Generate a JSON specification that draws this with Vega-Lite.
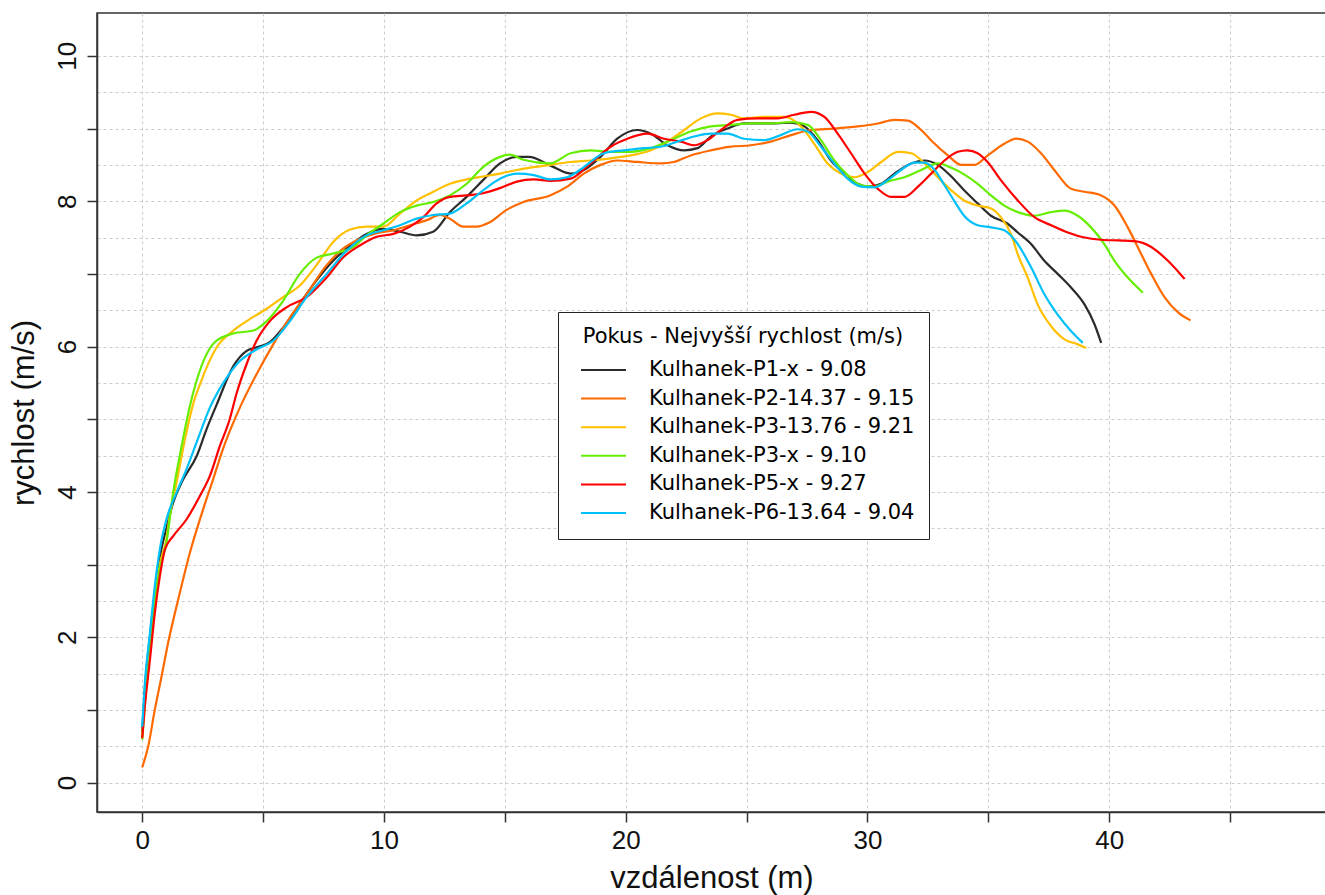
{
"$schema": "https://vega.github.io/schema/vega-lite/v6.json",
"width": 1229, "height": 799,
"autosize": {"type": "none"},
"padding": {"left": 97, "top": 13, "right": 0, "bottom": 83},
"background": "white",
"config": {"view": {"stroke": "#333333", "strokeWidth": 1.5}, "font": "Liberation Sans"},
"data": {"values": [
{"p":"Kulhanek-P1-x - 9.08","x":0,"y":0.7},{"p":"Kulhanek-P1-x - 9.08","x":0.11,"y":1.3},{"p":"Kulhanek-P1-x - 9.08","x":0.32,"y":2.0},{"p":"Kulhanek-P1-x - 9.08","x":0.52,"y":2.6},{"p":"Kulhanek-P1-x - 9.08","x":0.73,"y":3.1},{"p":"Kulhanek-P1-x - 9.08","x":1.0,"y":3.5},{"p":"Kulhanek-P1-x - 9.08","x":1.28,"y":3.85},{"p":"Kulhanek-P1-x - 9.08","x":1.69,"y":4.17},{"p":"Kulhanek-P1-x - 9.08","x":2.25,"y":4.49},{"p":"Kulhanek-P1-x - 9.08","x":2.66,"y":4.86},{"p":"Kulhanek-P1-x - 9.08","x":3.08,"y":5.2},{"p":"Kulhanek-P1-x - 9.08","x":3.77,"y":5.73},{"p":"Kulhanek-P1-x - 9.08","x":4.32,"y":5.94},{"p":"Kulhanek-P1-x - 9.08","x":4.73,"y":5.99},{"p":"Kulhanek-P1-x - 9.08","x":5.28,"y":6.06},{"p":"Kulhanek-P1-x - 9.08","x":5.83,"y":6.26},{"p":"Kulhanek-P1-x - 9.08","x":6.52,"y":6.59},{"p":"Kulhanek-P1-x - 9.08","x":7.21,"y":6.91},{"p":"Kulhanek-P1-x - 9.08","x":7.9,"y":7.18},{"p":"Kulhanek-P1-x - 9.08","x":8.6,"y":7.39},{"p":"Kulhanek-P1-x - 9.08","x":9.28,"y":7.55},{"p":"Kulhanek-P1-x - 9.08","x":9.97,"y":7.62},{"p":"Kulhanek-P1-x - 9.08","x":10.66,"y":7.58},{"p":"Kulhanek-P1-x - 9.08","x":11.35,"y":7.53},{"p":"Kulhanek-P1-x - 9.08","x":12.04,"y":7.58},{"p":"Kulhanek-P1-x - 9.08","x":12.73,"y":7.85},{"p":"Kulhanek-P1-x - 9.08","x":13.42,"y":8.06},{"p":"Kulhanek-P1-x - 9.08","x":14.1,"y":8.29},{"p":"Kulhanek-P1-x - 9.08","x":14.8,"y":8.52},{"p":"Kulhanek-P1-x - 9.08","x":15.5,"y":8.61},{"p":"Kulhanek-P1-x - 9.08","x":16.0,"y":8.61},{"p":"Kulhanek-P1-x - 9.08","x":16.89,"y":8.49},{"p":"Kulhanek-P1-x - 9.08","x":17.72,"y":8.38},{"p":"Kulhanek-P1-x - 9.08","x":18.27,"y":8.43},{"p":"Kulhanek-P1-x - 9.08","x":18.96,"y":8.61},{"p":"Kulhanek-P1-x - 9.08","x":19.65,"y":8.86},{"p":"Kulhanek-P1-x - 9.08","x":20.48,"y":8.98},{"p":"Kulhanek-P1-x - 9.08","x":21.04,"y":8.93},{"p":"Kulhanek-P1-x - 9.08","x":21.73,"y":8.77},{"p":"Kulhanek-P1-x - 9.08","x":22.42,"y":8.7},{"p":"Kulhanek-P1-x - 9.08","x":22.97,"y":8.73},{"p":"Kulhanek-P1-x - 9.08","x":23.52,"y":8.89},{"p":"Kulhanek-P1-x - 9.08","x":24.21,"y":9.0},{"p":"Kulhanek-P1-x - 9.08","x":24.9,"y":9.07},{"p":"Kulhanek-P1-x - 9.08","x":25.87,"y":9.07},{"p":"Kulhanek-P1-x - 9.08","x":26.84,"y":9.08},{"p":"Kulhanek-P1-x - 9.08","x":27.39,"y":9.03},{"p":"Kulhanek-P1-x - 9.08","x":27.94,"y":8.84},{"p":"Kulhanek-P1-x - 9.08","x":28.49,"y":8.56},{"p":"Kulhanek-P1-x - 9.08","x":29.05,"y":8.38},{"p":"Kulhanek-P1-x - 9.08","x":29.6,"y":8.24},{"p":"Kulhanek-P1-x - 9.08","x":30.01,"y":8.2},{"p":"Kulhanek-P1-x - 9.08","x":30.57,"y":8.24},{"p":"Kulhanek-P1-x - 9.08","x":31.12,"y":8.38},{"p":"Kulhanek-P1-x - 9.08","x":31.81,"y":8.52},{"p":"Kulhanek-P1-x - 9.08","x":32.36,"y":8.56},{"p":"Kulhanek-P1-x - 9.08","x":32.91,"y":8.5},{"p":"Kulhanek-P1-x - 9.08","x":33.47,"y":8.34},{"p":"Kulhanek-P1-x - 9.08","x":34.0,"y":8.15},{"p":"Kulhanek-P1-x - 9.08","x":34.56,"y":7.97},{"p":"Kulhanek-P1-x - 9.08","x":35.11,"y":7.8},{"p":"Kulhanek-P1-x - 9.08","x":35.8,"y":7.69},{"p":"Kulhanek-P1-x - 9.08","x":36.22,"y":7.57},{"p":"Kulhanek-P1-x - 9.08","x":36.77,"y":7.41},{"p":"Kulhanek-P1-x - 9.08","x":37.32,"y":7.18},{"p":"Kulhanek-P1-x - 9.08","x":37.87,"y":7.0},{"p":"Kulhanek-P1-x - 9.08","x":38.43,"y":6.81},{"p":"Kulhanek-P1-x - 9.08","x":38.98,"y":6.58},{"p":"Kulhanek-P1-x - 9.08","x":39.39,"y":6.31},{"p":"Kulhanek-P1-x - 9.08","x":39.67,"y":6.05},
{"p":"Kulhanek-P2-14.37 - 9.15","x":0,"y":0.21},{"p":"Kulhanek-P2-14.37 - 9.15","x":0.25,"y":0.5},{"p":"Kulhanek-P2-14.37 - 9.15","x":0.52,"y":1.0},{"p":"Kulhanek-P2-14.37 - 9.15","x":0.8,"y":1.46},{"p":"Kulhanek-P2-14.37 - 9.15","x":1.07,"y":1.92},{"p":"Kulhanek-P2-14.37 - 9.15","x":1.49,"y":2.52},{"p":"Kulhanek-P2-14.37 - 9.15","x":1.97,"y":3.16},{"p":"Kulhanek-P2-14.37 - 9.15","x":2.52,"y":3.76},{"p":"Kulhanek-P2-14.37 - 9.15","x":2.93,"y":4.17},{"p":"Kulhanek-P2-14.37 - 9.15","x":3.35,"y":4.6},{"p":"Kulhanek-P2-14.37 - 9.15","x":4.04,"y":5.16},{"p":"Kulhanek-P2-14.37 - 9.15","x":4.73,"y":5.62},{"p":"Kulhanek-P2-14.37 - 9.15","x":5.42,"y":6.03},{"p":"Kulhanek-P2-14.37 - 9.15","x":6.11,"y":6.4},{"p":"Kulhanek-P2-14.37 - 9.15","x":6.8,"y":6.72},{"p":"Kulhanek-P2-14.37 - 9.15","x":7.63,"y":7.12},{"p":"Kulhanek-P2-14.37 - 9.15","x":8.32,"y":7.35},{"p":"Kulhanek-P2-14.37 - 9.15","x":9.0,"y":7.48},{"p":"Kulhanek-P2-14.37 - 9.15","x":9.7,"y":7.56},{"p":"Kulhanek-P2-14.37 - 9.15","x":10.39,"y":7.6},{"p":"Kulhanek-P2-14.37 - 9.15","x":11.08,"y":7.67},{"p":"Kulhanek-P2-14.37 - 9.15","x":11.77,"y":7.74},{"p":"Kulhanek-P2-14.37 - 9.15","x":12.32,"y":7.81},{"p":"Kulhanek-P2-14.37 - 9.15","x":12.73,"y":7.76},{"p":"Kulhanek-P2-14.37 - 9.15","x":13.28,"y":7.65},{"p":"Kulhanek-P2-14.37 - 9.15","x":13.83,"y":7.65},{"p":"Kulhanek-P2-14.37 - 9.15","x":14.38,"y":7.71},{"p":"Kulhanek-P2-14.37 - 9.15","x":15.07,"y":7.88},{"p":"Kulhanek-P2-14.37 - 9.15","x":15.77,"y":7.99},{"p":"Kulhanek-P2-14.37 - 9.15","x":16.87,"y":8.08},{"p":"Kulhanek-P2-14.37 - 9.15","x":17.58,"y":8.2},{"p":"Kulhanek-P2-14.37 - 9.15","x":18.27,"y":8.38},{"p":"Kulhanek-P2-14.37 - 9.15","x":18.96,"y":8.5},{"p":"Kulhanek-P2-14.37 - 9.15","x":19.65,"y":8.56},{"p":"Kulhanek-P2-14.37 - 9.15","x":20.48,"y":8.54},{"p":"Kulhanek-P2-14.37 - 9.15","x":21.45,"y":8.52},{"p":"Kulhanek-P2-14.37 - 9.15","x":22.0,"y":8.54},{"p":"Kulhanek-P2-14.37 - 9.15","x":22.69,"y":8.63},{"p":"Kulhanek-P2-14.37 - 9.15","x":23.52,"y":8.7},{"p":"Kulhanek-P2-14.37 - 9.15","x":24.35,"y":8.75},{"p":"Kulhanek-P2-14.37 - 9.15","x":25.18,"y":8.77},{"p":"Kulhanek-P2-14.37 - 9.15","x":26.0,"y":8.82},{"p":"Kulhanek-P2-14.37 - 9.15","x":26.84,"y":8.91},{"p":"Kulhanek-P2-14.37 - 9.15","x":27.67,"y":8.98},{"p":"Kulhanek-P2-14.37 - 9.15","x":28.63,"y":9.0},{"p":"Kulhanek-P2-14.37 - 9.15","x":29.6,"y":9.03},{"p":"Kulhanek-P2-14.37 - 9.15","x":30.43,"y":9.07},{"p":"Kulhanek-P2-14.37 - 9.15","x":31.12,"y":9.12},{"p":"Kulhanek-P2-14.37 - 9.15","x":31.67,"y":9.11},{"p":"Kulhanek-P2-14.37 - 9.15","x":32.22,"y":8.98},{"p":"Kulhanek-P2-14.37 - 9.15","x":32.78,"y":8.79},{"p":"Kulhanek-P2-14.37 - 9.15","x":33.33,"y":8.63},{"p":"Kulhanek-P2-14.37 - 9.15","x":33.88,"y":8.5},{"p":"Kulhanek-P2-14.37 - 9.15","x":34.43,"y":8.5},{"p":"Kulhanek-P2-14.37 - 9.15","x":34.98,"y":8.63},{"p":"Kulhanek-P2-14.37 - 9.15","x":35.66,"y":8.79},{"p":"Kulhanek-P2-14.37 - 9.15","x":36.15,"y":8.86},{"p":"Kulhanek-P2-14.37 - 9.15","x":36.63,"y":8.82},{"p":"Kulhanek-P2-14.37 - 9.15","x":37.18,"y":8.66},{"p":"Kulhanek-P2-14.37 - 9.15","x":37.73,"y":8.43},{"p":"Kulhanek-P2-14.37 - 9.15","x":38.43,"y":8.17},{"p":"Kulhanek-P2-14.37 - 9.15","x":38.98,"y":8.13},{"p":"Kulhanek-P2-14.37 - 9.15","x":39.67,"y":8.08},{"p":"Kulhanek-P2-14.37 - 9.15","x":40.22,"y":7.94},{"p":"Kulhanek-P2-14.37 - 9.15","x":40.77,"y":7.64},{"p":"Kulhanek-P2-14.37 - 9.15","x":41.33,"y":7.27},{"p":"Kulhanek-P2-14.37 - 9.15","x":41.74,"y":7.0},{"p":"Kulhanek-P2-14.37 - 9.15","x":42.29,"y":6.68},{"p":"Kulhanek-P2-14.37 - 9.15","x":42.85,"y":6.47},{"p":"Kulhanek-P2-14.37 - 9.15","x":43.37,"y":6.36},
{"p":"Kulhanek-P3-13.76 - 9.21","x":0,"y":0.62},{"p":"Kulhanek-P3-13.76 - 9.21","x":0.11,"y":1.1},{"p":"Kulhanek-P3-13.76 - 9.21","x":0.32,"y":1.8},{"p":"Kulhanek-P3-13.76 - 9.21","x":0.52,"y":2.5},{"p":"Kulhanek-P3-13.76 - 9.21","x":0.73,"y":3.0},{"p":"Kulhanek-P3-13.76 - 9.21","x":1.0,"y":3.35},{"p":"Kulhanek-P3-13.76 - 9.21","x":1.14,"y":3.67},{"p":"Kulhanek-P3-13.76 - 9.21","x":1.42,"y":4.13},{"p":"Kulhanek-P3-13.76 - 9.21","x":1.83,"y":4.82},{"p":"Kulhanek-P3-13.76 - 9.21","x":2.1,"y":5.2},{"p":"Kulhanek-P3-13.76 - 9.21","x":2.39,"y":5.48},{"p":"Kulhanek-P3-13.76 - 9.21","x":3.08,"y":5.99},{"p":"Kulhanek-P3-13.76 - 9.21","x":3.77,"y":6.22},{"p":"Kulhanek-P3-13.76 - 9.21","x":4.46,"y":6.38},{"p":"Kulhanek-P3-13.76 - 9.21","x":5.15,"y":6.52},{"p":"Kulhanek-P3-13.76 - 9.21","x":5.83,"y":6.68},{"p":"Kulhanek-P3-13.76 - 9.21","x":6.52,"y":6.84},{"p":"Kulhanek-P3-13.76 - 9.21","x":7.21,"y":7.12},{"p":"Kulhanek-P3-13.76 - 9.21","x":7.9,"y":7.44},{"p":"Kulhanek-P3-13.76 - 9.21","x":8.6,"y":7.61},{"p":"Kulhanek-P3-13.76 - 9.21","x":9.28,"y":7.65},{"p":"Kulhanek-P3-13.76 - 9.21","x":9.97,"y":7.65},{"p":"Kulhanek-P3-13.76 - 9.21","x":10.66,"y":7.83},{"p":"Kulhanek-P3-13.76 - 9.21","x":11.35,"y":8.01},{"p":"Kulhanek-P3-13.76 - 9.21","x":12.04,"y":8.13},{"p":"Kulhanek-P3-13.76 - 9.21","x":12.73,"y":8.24},{"p":"Kulhanek-P3-13.76 - 9.21","x":13.42,"y":8.3},{"p":"Kulhanek-P3-13.76 - 9.21","x":14.1,"y":8.34},{"p":"Kulhanek-P3-13.76 - 9.21","x":14.8,"y":8.38},{"p":"Kulhanek-P3-13.76 - 9.21","x":15.5,"y":8.43},{"p":"Kulhanek-P3-13.76 - 9.21","x":16.87,"y":8.5},{"p":"Kulhanek-P3-13.76 - 9.21","x":17.72,"y":8.54},{"p":"Kulhanek-P3-13.76 - 9.21","x":18.55,"y":8.56},{"p":"Kulhanek-P3-13.76 - 9.21","x":19.38,"y":8.59},{"p":"Kulhanek-P3-13.76 - 9.21","x":20.21,"y":8.63},{"p":"Kulhanek-P3-13.76 - 9.21","x":21.04,"y":8.7},{"p":"Kulhanek-P3-13.76 - 9.21","x":21.73,"y":8.82},{"p":"Kulhanek-P3-13.76 - 9.21","x":22.42,"y":8.98},{"p":"Kulhanek-P3-13.76 - 9.21","x":23.11,"y":9.14},{"p":"Kulhanek-P3-13.76 - 9.21","x":23.8,"y":9.21},{"p":"Kulhanek-P3-13.76 - 9.21","x":24.35,"y":9.19},{"p":"Kulhanek-P3-13.76 - 9.21","x":24.9,"y":9.14},{"p":"Kulhanek-P3-13.76 - 9.21","x":25.73,"y":9.16},{"p":"Kulhanek-P3-13.76 - 9.21","x":26.56,"y":9.16},{"p":"Kulhanek-P3-13.76 - 9.21","x":27.25,"y":9.03},{"p":"Kulhanek-P3-13.76 - 9.21","x":27.8,"y":8.79},{"p":"Kulhanek-P3-13.76 - 9.21","x":28.35,"y":8.52},{"p":"Kulhanek-P3-13.76 - 9.21","x":28.9,"y":8.38},{"p":"Kulhanek-P3-13.76 - 9.21","x":29.46,"y":8.33},{"p":"Kulhanek-P3-13.76 - 9.21","x":30.01,"y":8.4},{"p":"Kulhanek-P3-13.76 - 9.21","x":30.57,"y":8.54},{"p":"Kulhanek-P3-13.76 - 9.21","x":31.26,"y":8.68},{"p":"Kulhanek-P3-13.76 - 9.21","x":31.81,"y":8.66},{"p":"Kulhanek-P3-13.76 - 9.21","x":32.36,"y":8.52},{"p":"Kulhanek-P3-13.76 - 9.21","x":32.91,"y":8.33},{"p":"Kulhanek-P3-13.76 - 9.21","x":33.47,"y":8.15},{"p":"Kulhanek-P3-13.76 - 9.21","x":34.0,"y":8.01},{"p":"Kulhanek-P3-13.76 - 9.21","x":34.56,"y":7.94},{"p":"Kulhanek-P3-13.76 - 9.21","x":35.11,"y":7.9},{"p":"Kulhanek-P3-13.76 - 9.21","x":35.52,"y":7.78},{"p":"Kulhanek-P3-13.76 - 9.21","x":35.94,"y":7.55},{"p":"Kulhanek-P3-13.76 - 9.21","x":36.22,"y":7.27},{"p":"Kulhanek-P3-13.76 - 9.21","x":36.63,"y":6.95},{"p":"Kulhanek-P3-13.76 - 9.21","x":37.04,"y":6.58},{"p":"Kulhanek-P3-13.76 - 9.21","x":37.6,"y":6.28},{"p":"Kulhanek-P3-13.76 - 9.21","x":38.15,"y":6.1},{"p":"Kulhanek-P3-13.76 - 9.21","x":38.7,"y":6.03},{"p":"Kulhanek-P3-13.76 - 9.21","x":39.05,"y":5.98},
{"p":"Kulhanek-P3-x - 9.10","x":0,"y":0.59},{"p":"Kulhanek-P3-x - 9.10","x":0.11,"y":1.1},{"p":"Kulhanek-P3-x - 9.10","x":0.32,"y":1.8},{"p":"Kulhanek-P3-x - 9.10","x":0.52,"y":2.5},{"p":"Kulhanek-P3-x - 9.10","x":0.73,"y":2.95},{"p":"Kulhanek-P3-x - 9.10","x":1.0,"y":3.3},{"p":"Kulhanek-P3-x - 9.10","x":1.28,"y":3.99},{"p":"Kulhanek-P3-x - 9.10","x":1.63,"y":4.63},{"p":"Kulhanek-P3-x - 9.10","x":1.97,"y":5.18},{"p":"Kulhanek-P3-x - 9.10","x":2.25,"y":5.53},{"p":"Kulhanek-P3-x - 9.10","x":3.0,"y":6.06},{"p":"Kulhanek-P3-x - 9.10","x":3.77,"y":6.18},{"p":"Kulhanek-P3-x - 9.10","x":4.6,"y":6.22},{"p":"Kulhanek-P3-x - 9.10","x":5.15,"y":6.35},{"p":"Kulhanek-P3-x - 9.10","x":5.83,"y":6.63},{"p":"Kulhanek-P3-x - 9.10","x":6.52,"y":7.0},{"p":"Kulhanek-P3-x - 9.10","x":7.2,"y":7.22},{"p":"Kulhanek-P3-x - 9.10","x":7.9,"y":7.28},{"p":"Kulhanek-P3-x - 9.10","x":8.73,"y":7.37},{"p":"Kulhanek-P3-x - 9.10","x":9.28,"y":7.53},{"p":"Kulhanek-P3-x - 9.10","x":9.97,"y":7.69},{"p":"Kulhanek-P3-x - 9.10","x":10.66,"y":7.85},{"p":"Kulhanek-P3-x - 9.10","x":11.35,"y":7.94},{"p":"Kulhanek-P3-x - 9.10","x":12.04,"y":7.99},{"p":"Kulhanek-P3-x - 9.10","x":12.73,"y":8.08},{"p":"Kulhanek-P3-x - 9.10","x":13.42,"y":8.24},{"p":"Kulhanek-P3-x - 9.10","x":14.1,"y":8.47},{"p":"Kulhanek-P3-x - 9.10","x":14.8,"y":8.61},{"p":"Kulhanek-P3-x - 9.10","x":15.2,"y":8.64},{"p":"Kulhanek-P3-x - 9.10","x":15.77,"y":8.57},{"p":"Kulhanek-P3-x - 9.10","x":16.87,"y":8.52},{"p":"Kulhanek-P3-x - 9.10","x":17.72,"y":8.66},{"p":"Kulhanek-P3-x - 9.10","x":18.55,"y":8.7},{"p":"Kulhanek-P3-x - 9.10","x":19.38,"y":8.68},{"p":"Kulhanek-P3-x - 9.10","x":20.21,"y":8.68},{"p":"Kulhanek-P3-x - 9.10","x":21.04,"y":8.73},{"p":"Kulhanek-P3-x - 9.10","x":21.86,"y":8.84},{"p":"Kulhanek-P3-x - 9.10","x":22.69,"y":8.96},{"p":"Kulhanek-P3-x - 9.10","x":23.52,"y":9.03},{"p":"Kulhanek-P3-x - 9.10","x":24.35,"y":9.05},{"p":"Kulhanek-P3-x - 9.10","x":25.18,"y":9.07},{"p":"Kulhanek-P3-x - 9.10","x":26.0,"y":9.07},{"p":"Kulhanek-P3-x - 9.10","x":26.84,"y":9.09},{"p":"Kulhanek-P3-x - 9.10","x":27.53,"y":9.05},{"p":"Kulhanek-P3-x - 9.10","x":28.08,"y":8.84},{"p":"Kulhanek-P3-x - 9.10","x":28.63,"y":8.56},{"p":"Kulhanek-P3-x - 9.10","x":29.18,"y":8.36},{"p":"Kulhanek-P3-x - 9.10","x":29.74,"y":8.22},{"p":"Kulhanek-P3-x - 9.10","x":30.29,"y":8.2},{"p":"Kulhanek-P3-x - 9.10","x":30.84,"y":8.27},{"p":"Kulhanek-P3-x - 9.10","x":31.53,"y":8.33},{"p":"Kulhanek-P3-x - 9.10","x":32.22,"y":8.43},{"p":"Kulhanek-P3-x - 9.10","x":32.91,"y":8.52},{"p":"Kulhanek-P3-x - 9.10","x":33.47,"y":8.46},{"p":"Kulhanek-P3-x - 9.10","x":34.0,"y":8.37},{"p":"Kulhanek-P3-x - 9.10","x":34.56,"y":8.24},{"p":"Kulhanek-P3-x - 9.10","x":35.11,"y":8.08},{"p":"Kulhanek-P3-x - 9.10","x":35.66,"y":7.94},{"p":"Kulhanek-P3-x - 9.10","x":36.22,"y":7.85},{"p":"Kulhanek-P3-x - 9.10","x":36.91,"y":7.8},{"p":"Kulhanek-P3-x - 9.10","x":37.6,"y":7.85},{"p":"Kulhanek-P3-x - 9.10","x":38.15,"y":7.87},{"p":"Kulhanek-P3-x - 9.10","x":38.7,"y":7.8},{"p":"Kulhanek-P3-x - 9.10","x":39.25,"y":7.64},{"p":"Kulhanek-P3-x - 9.10","x":39.8,"y":7.41},{"p":"Kulhanek-P3-x - 9.10","x":40.22,"y":7.18},{"p":"Kulhanek-P3-x - 9.10","x":40.77,"y":6.95},{"p":"Kulhanek-P3-x - 9.10","x":41.4,"y":6.74},
{"p":"Kulhanek-P5-x - 9.27","x":0,"y":0.61},{"p":"Kulhanek-P5-x - 9.27","x":0.11,"y":1.05},{"p":"Kulhanek-P5-x - 9.27","x":0.32,"y":1.69},{"p":"Kulhanek-P5-x - 9.27","x":0.52,"y":2.33},{"p":"Kulhanek-P5-x - 9.27","x":0.73,"y":2.84},{"p":"Kulhanek-P5-x - 9.27","x":0.94,"y":3.21},{"p":"Kulhanek-P5-x - 9.27","x":1.28,"y":3.39},{"p":"Kulhanek-P5-x - 9.27","x":1.83,"y":3.62},{"p":"Kulhanek-P5-x - 9.27","x":2.38,"y":3.94},{"p":"Kulhanek-P5-x - 9.27","x":2.8,"y":4.22},{"p":"Kulhanek-P5-x - 9.27","x":3.21,"y":4.63},{"p":"Kulhanek-P5-x - 9.27","x":3.62,"y":5.0},{"p":"Kulhanek-P5-x - 9.27","x":3.9,"y":5.35},{"p":"Kulhanek-P5-x - 9.27","x":4.32,"y":5.76},{"p":"Kulhanek-P5-x - 9.27","x":4.73,"y":6.08},{"p":"Kulhanek-P5-x - 9.27","x":5.28,"y":6.35},{"p":"Kulhanek-P5-x - 9.27","x":5.97,"y":6.54},{"p":"Kulhanek-P5-x - 9.27","x":6.8,"y":6.68},{"p":"Kulhanek-P5-x - 9.27","x":7.63,"y":6.95},{"p":"Kulhanek-P5-x - 9.27","x":8.32,"y":7.23},{"p":"Kulhanek-P5-x - 9.27","x":9.0,"y":7.39},{"p":"Kulhanek-P5-x - 9.27","x":9.7,"y":7.51},{"p":"Kulhanek-P5-x - 9.27","x":10.39,"y":7.55},{"p":"Kulhanek-P5-x - 9.27","x":11.08,"y":7.65},{"p":"Kulhanek-P5-x - 9.27","x":11.63,"y":7.78},{"p":"Kulhanek-P5-x - 9.27","x":12.18,"y":7.97},{"p":"Kulhanek-P5-x - 9.27","x":12.73,"y":8.06},{"p":"Kulhanek-P5-x - 9.27","x":13.42,"y":8.08},{"p":"Kulhanek-P5-x - 9.27","x":14.1,"y":8.11},{"p":"Kulhanek-P5-x - 9.27","x":14.8,"y":8.18},{"p":"Kulhanek-P5-x - 9.27","x":15.5,"y":8.27},{"p":"Kulhanek-P5-x - 9.27","x":16.2,"y":8.3},{"p":"Kulhanek-P5-x - 9.27","x":16.89,"y":8.28},{"p":"Kulhanek-P5-x - 9.27","x":17.72,"y":8.31},{"p":"Kulhanek-P5-x - 9.27","x":18.55,"y":8.52},{"p":"Kulhanek-P5-x - 9.27","x":19.38,"y":8.75},{"p":"Kulhanek-P5-x - 9.27","x":20.07,"y":8.86},{"p":"Kulhanek-P5-x - 9.27","x":20.9,"y":8.93},{"p":"Kulhanek-P5-x - 9.27","x":21.59,"y":8.86},{"p":"Kulhanek-P5-x - 9.27","x":22.28,"y":8.82},{"p":"Kulhanek-P5-x - 9.27","x":22.83,"y":8.77},{"p":"Kulhanek-P5-x - 9.27","x":23.38,"y":8.84},{"p":"Kulhanek-P5-x - 9.27","x":23.94,"y":8.98},{"p":"Kulhanek-P5-x - 9.27","x":24.63,"y":9.12},{"p":"Kulhanek-P5-x - 9.27","x":25.46,"y":9.14},{"p":"Kulhanek-P5-x - 9.27","x":26.28,"y":9.14},{"p":"Kulhanek-P5-x - 9.27","x":26.98,"y":9.19},{"p":"Kulhanek-P5-x - 9.27","x":27.67,"y":9.23},{"p":"Kulhanek-P5-x - 9.27","x":28.22,"y":9.16},{"p":"Kulhanek-P5-x - 9.27","x":28.77,"y":8.93},{"p":"Kulhanek-P5-x - 9.27","x":29.32,"y":8.66},{"p":"Kulhanek-P5-x - 9.27","x":29.88,"y":8.38},{"p":"Kulhanek-P5-x - 9.27","x":30.43,"y":8.17},{"p":"Kulhanek-P5-x - 9.27","x":30.98,"y":8.06},{"p":"Kulhanek-P5-x - 9.27","x":31.53,"y":8.06},{"p":"Kulhanek-P5-x - 9.27","x":32.09,"y":8.2},{"p":"Kulhanek-P5-x - 9.27","x":32.64,"y":8.38},{"p":"Kulhanek-P5-x - 9.27","x":33.19,"y":8.56},{"p":"Kulhanek-P5-x - 9.27","x":33.74,"y":8.68},{"p":"Kulhanek-P5-x - 9.27","x":34.14,"y":8.7},{"p":"Kulhanek-P5-x - 9.27","x":34.56,"y":8.66},{"p":"Kulhanek-P5-x - 9.27","x":34.97,"y":8.54},{"p":"Kulhanek-P5-x - 9.27","x":35.52,"y":8.29},{"p":"Kulhanek-P5-x - 9.27","x":36.22,"y":8.01},{"p":"Kulhanek-P5-x - 9.27","x":36.91,"y":7.78},{"p":"Kulhanek-P5-x - 9.27","x":37.6,"y":7.67},{"p":"Kulhanek-P5-x - 9.27","x":38.29,"y":7.57},{"p":"Kulhanek-P5-x - 9.27","x":38.98,"y":7.5},{"p":"Kulhanek-P5-x - 9.27","x":39.67,"y":7.47},{"p":"Kulhanek-P5-x - 9.27","x":40.36,"y":7.46},{"p":"Kulhanek-P5-x - 9.27","x":41.05,"y":7.45},{"p":"Kulhanek-P5-x - 9.27","x":41.74,"y":7.37},{"p":"Kulhanek-P5-x - 9.27","x":42.43,"y":7.18},{"p":"Kulhanek-P5-x - 9.27","x":43.12,"y":6.93},
{"p":"Kulhanek-P6-13.64 - 9.04","x":0,"y":0.77},{"p":"Kulhanek-P6-13.64 - 9.04","x":0.11,"y":1.37},{"p":"Kulhanek-P6-13.64 - 9.04","x":0.32,"y":2.06},{"p":"Kulhanek-P6-13.64 - 9.04","x":0.52,"y":2.7},{"p":"Kulhanek-P6-13.64 - 9.04","x":0.73,"y":3.21},{"p":"Kulhanek-P6-13.64 - 9.04","x":1.0,"y":3.62},{"p":"Kulhanek-P6-13.64 - 9.04","x":1.42,"y":3.99},{"p":"Kulhanek-P6-13.64 - 9.04","x":1.83,"y":4.31},{"p":"Kulhanek-P6-13.64 - 9.04","x":2.25,"y":4.68},{"p":"Kulhanek-P6-13.64 - 9.04","x":2.8,"y":5.16},{"p":"Kulhanek-P6-13.64 - 9.04","x":3.49,"y":5.57},{"p":"Kulhanek-P6-13.64 - 9.04","x":4.04,"y":5.8},{"p":"Kulhanek-P6-13.64 - 9.04","x":4.73,"y":5.96},{"p":"Kulhanek-P6-13.64 - 9.04","x":5.42,"y":6.08},{"p":"Kulhanek-P6-13.64 - 9.04","x":6.11,"y":6.35},{"p":"Kulhanek-P6-13.64 - 9.04","x":6.8,"y":6.68},{"p":"Kulhanek-P6-13.64 - 9.04","x":7.63,"y":7.0},{"p":"Kulhanek-P6-13.64 - 9.04","x":8.46,"y":7.32},{"p":"Kulhanek-P6-13.64 - 9.04","x":9.28,"y":7.53},{"p":"Kulhanek-P6-13.64 - 9.04","x":9.97,"y":7.6},{"p":"Kulhanek-P6-13.64 - 9.04","x":10.66,"y":7.67},{"p":"Kulhanek-P6-13.64 - 9.04","x":11.35,"y":7.76},{"p":"Kulhanek-P6-13.64 - 9.04","x":12.04,"y":7.81},{"p":"Kulhanek-P6-13.64 - 9.04","x":12.73,"y":7.83},{"p":"Kulhanek-P6-13.64 - 9.04","x":13.42,"y":7.97},{"p":"Kulhanek-P6-13.64 - 9.04","x":14.1,"y":8.15},{"p":"Kulhanek-P6-13.64 - 9.04","x":14.8,"y":8.31},{"p":"Kulhanek-P6-13.64 - 9.04","x":15.5,"y":8.38},{"p":"Kulhanek-P6-13.64 - 9.04","x":16.2,"y":8.36},{"p":"Kulhanek-P6-13.64 - 9.04","x":16.89,"y":8.3},{"p":"Kulhanek-P6-13.64 - 9.04","x":17.58,"y":8.33},{"p":"Kulhanek-P6-13.64 - 9.04","x":18.27,"y":8.47},{"p":"Kulhanek-P6-13.64 - 9.04","x":19.1,"y":8.66},{"p":"Kulhanek-P6-13.64 - 9.04","x":19.93,"y":8.7},{"p":"Kulhanek-P6-13.64 - 9.04","x":20.76,"y":8.73},{"p":"Kulhanek-P6-13.64 - 9.04","x":21.45,"y":8.75},{"p":"Kulhanek-P6-13.64 - 9.04","x":22.14,"y":8.82},{"p":"Kulhanek-P6-13.64 - 9.04","x":22.83,"y":8.89},{"p":"Kulhanek-P6-13.64 - 9.04","x":23.52,"y":8.93},{"p":"Kulhanek-P6-13.64 - 9.04","x":24.21,"y":8.93},{"p":"Kulhanek-P6-13.64 - 9.04","x":24.9,"y":8.86},{"p":"Kulhanek-P6-13.64 - 9.04","x":25.73,"y":8.84},{"p":"Kulhanek-P6-13.64 - 9.04","x":26.42,"y":8.91},{"p":"Kulhanek-P6-13.64 - 9.04","x":27.11,"y":8.99},{"p":"Kulhanek-P6-13.64 - 9.04","x":27.53,"y":8.96},{"p":"Kulhanek-P6-13.64 - 9.04","x":28.08,"y":8.75},{"p":"Kulhanek-P6-13.64 - 9.04","x":28.63,"y":8.52},{"p":"Kulhanek-P6-13.64 - 9.04","x":29.18,"y":8.31},{"p":"Kulhanek-P6-13.64 - 9.04","x":29.74,"y":8.2},{"p":"Kulhanek-P6-13.64 - 9.04","x":30.29,"y":8.19},{"p":"Kulhanek-P6-13.64 - 9.04","x":30.84,"y":8.29},{"p":"Kulhanek-P6-13.64 - 9.04","x":31.39,"y":8.43},{"p":"Kulhanek-P6-13.64 - 9.04","x":31.95,"y":8.53},{"p":"Kulhanek-P6-13.64 - 9.04","x":32.36,"y":8.53},{"p":"Kulhanek-P6-13.64 - 9.04","x":32.78,"y":8.43},{"p":"Kulhanek-P6-13.64 - 9.04","x":33.19,"y":8.22},{"p":"Kulhanek-P6-13.64 - 9.04","x":33.6,"y":8.0},{"p":"Kulhanek-P6-13.64 - 9.04","x":34.0,"y":7.8},{"p":"Kulhanek-P6-13.64 - 9.04","x":34.56,"y":7.67},{"p":"Kulhanek-P6-13.64 - 9.04","x":35.11,"y":7.64},{"p":"Kulhanek-P6-13.64 - 9.04","x":35.66,"y":7.6},{"p":"Kulhanek-P6-13.64 - 9.04","x":36.22,"y":7.41},{"p":"Kulhanek-P6-13.64 - 9.04","x":36.77,"y":7.09},{"p":"Kulhanek-P6-13.64 - 9.04","x":37.32,"y":6.72},{"p":"Kulhanek-P6-13.64 - 9.04","x":37.87,"y":6.44},{"p":"Kulhanek-P6-13.64 - 9.04","x":38.43,"y":6.21},{"p":"Kulhanek-P6-13.64 - 9.04","x":38.91,"y":6.05}
]},
"mark": {"type": "line", "interpolate": "monotone", "strokeWidth": 2.2},
"encoding": {
  "x": {"field": "x", "type": "quantitative",
    "scale": {"domain": [-1.87, 48.97], "nice": false, "zero": false},
    "axis": {"values": [0,5,10,15,20,25,30,35,40,45],
      "labelExpr": "datum.value % 10 === 0 ? '' + datum.value : ''",
      "labelOverlap": false, "labelFlush": false,
      "title": "vzdálenost (m)",
      "grid": true, "gridColor": "#cccccc", "gridDash": [3,3], "gridWidth": 1,
      "domainColor": "#333333", "domainWidth": 1.5,
      "tickColor": "#333333", "tickSize": 10, "tickWidth": 1.5,
      "labelFont": "Liberation Sans", "labelFontSize": 26, "labelColor": "#111111", "labelPadding": 5, "labelBaseline": "top",
      "titleFont": "Liberation Sans", "titleFontSize": 31, "titleFontWeight": "normal", "titleColor": "#111111",
      "titleY": 75, "titleBaseline": "alphabetic"}},
  "y": {"field": "y", "type": "quantitative",
    "scale": {"domain": [-0.405, 10.59], "nice": false, "zero": false},
    "axis": {"values": [0,0.5,1,1.5,2,2.5,3,3.5,4,4.5,5,5.5,6,6.5,7,7.5,8,8.5,9,9.5,10],
      "labelExpr": "datum.value % 2 === 0 ? '' + datum.value : ''",
      "labelOverlap": false, "labelFlush": false,
      "tickOpacity": {"condition": {"test": "datum.value % 1 === 0", "value": 1}, "value": 0},
      "title": "rychlost (m/s)",
      "grid": true, "gridColor": "#cccccc", "gridDash": [3,3], "gridWidth": 1,
      "domainColor": "#333333", "domainWidth": 1.5,
      "tickColor": "#333333", "tickSize": 10, "tickWidth": 1.5,
      "labelFont": "Liberation Sans", "labelFontSize": 26, "labelColor": "#111111",
      "labelAngle": -90, "labelAlign": "center", "labelBaseline": "alphabetic", "labelPadding": 12,
      "titleFont": "Liberation Sans", "titleFontSize": 31, "titleFontWeight": "normal", "titleColor": "#111111",
      "titleX": -64, "titleY": 399.5, "titleAngle": -90, "titleAlign": "center", "titleBaseline": "alphabetic"}},
  "color": {"field": "p", "type": "nominal",
    "scale": {"domain": ["Kulhanek-P1-x - 9.08","Kulhanek-P2-14.37 - 9.15","Kulhanek-P3-13.76 - 9.21","Kulhanek-P3-x - 9.10","Kulhanek-P5-x - 9.27","Kulhanek-P6-13.64 - 9.04"],
      "range": ["#2b2b2b","#ff6a00","#ffc000","#66ee00","#ff0000","#00c0f8"]},
    "legend": {"orient": "none", "legendX": 461, "legendY": 299,
      "title": "Pokus - Nejvyšší rychlost (m/s)",
      "titleFont": "DejaVu Sans", "titleFontSize": 21, "titleFontWeight": "normal", "titleColor": "#000000",
      "titleAnchor": "middle", "titlePadding": 11, "titleLimit": 600,
      "labelFont": "DejaVu Sans", "labelFontSize": 21, "labelColor": "#000000", "labelLimit": 600,
      "symbolType": "stroke", "symbolSize": 2025, "symbolStrokeWidth": 2,
      "symbolOffset": 8, "labelOffset": 22,
      "clipHeight": 24, "rowPadding": 4.6,
      "padding": 14, "strokeColor": "#222222", "fillColor": "#ffffff"}}
}
}
